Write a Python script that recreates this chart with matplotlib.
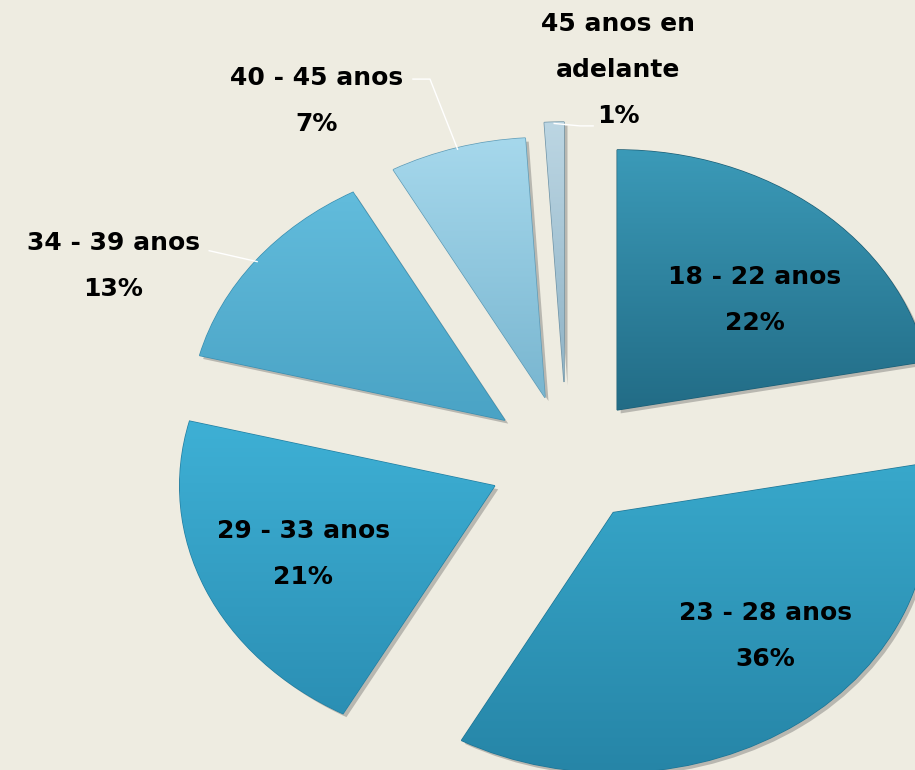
import numpy as np
import matplotlib.pyplot as plt
import matplotlib.patheffects as pe
from matplotlib.colors import LinearSegmentedColormap

plt.rcParams['font.family'] = ['DejaVu Sans']

# --- age groups and their share
groups = ["18 - 22 anos", "23 - 28 anos", "29 - 33 anos",
          "34 - 39 anos", "40 - 45 anos", "45 anos en\nadelante"]
shares = [22, 36, 21, 13, 7, 1]

# --- look of each slice (light top, darker bottom)
shade_top = ["#3b9ab8", "#38a8cb", "#3eb0d5", "#62bcdc", "#a6d8ec", "#bcd6e3"]
shade_bot = ["#226c86", "#2685a7", "#2b8fb4", "#4aa3c5", "#79b6d0", "#8fb3c6"]
edge_cols = ["#1d5f76", "#1f7595", "#237fa2", "#3b8fb0", "#5f9bb6", "#6f93a6"]
explode = [0.25, 0.25, 0.25, 0.25, 0.25, 0.3]

# label block centres and leader starts (None = label sits inside the slice)
label_xy = [(0.597, 0.615), (0.629, -0.677), (-0.838, -0.362),
            (-1.441, 0.746), (-0.794, 1.381), (0.162, 1.50)]
leaders = [None, None, None,
           [(-1.136, 0.805), (None, None)],
           [(-0.489, 1.465), (-0.435, 1.465)],
           [(0.083, 1.285), (0.041, 1.285)]]

bg = "#eeece1"
fig = plt.figure(figsize=(9.15, 7.7), dpi=100)
fig.patch.set_facecolor(bg)
ax = fig.add_axes([0, 0, 1, 1])
ax.set_facecolor(bg)

wedges, _ = ax.pie(shares, startangle=90, counterclock=False, explode=explode,
                   radius=1.0, normalize=True,
                   wedgeprops=dict(linewidth=1.0))

for i, w in enumerate(wedges):
    w.set_facecolor(shade_bot[i])
    w.set_edgecolor(edge_cols[i])
    w.set_path_effects([pe.SimplePatchShadow(offset=(2.5, -2.5), shadow_rgbFace="#555",
                                             alpha=0.35), pe.Normal()])
    # vertical gradient clipped to the wedge
    ext = w.get_path().get_extents()
    cmap = LinearSegmentedColormap.from_list("s%d" % i, [shade_bot[i], shade_top[i]])
    grad = np.linspace(0, 1, 256).reshape(-1, 1)
    im = ax.imshow(grad, cmap=cmap, origin="lower", aspect="auto",
                   extent=(ext.x0, ext.x1, ext.y0, ext.y1), zorder=w.get_zorder() + 0.1,
                   interpolation="bicubic")
    im.set_clip_path(w)

# labels
for i, w in enumerate(wedges):
    txt = "%s\n%d%%" % (groups[i], shares[i])
    ax.text(*label_xy[i], txt, ha="center", va="center", fontsize=18,
            fontweight="bold", color="black", linespacing=2.15, zorder=5)
    if leaders[i] is not None:
        mid = np.deg2rad((w.theta1 + w.theta2) / 2)
        cx, cy = w.center
        tip = (cx + np.cos(mid) * w.r * 0.995, cy + np.sin(mid) * w.r * 0.995)
        start, knee = leaders[i]
        pts = [start]
        if knee[0] is not None:
            pts.append(knee)
        pts.append(tip)
        xs, ys = zip(*pts)
        ax.plot(xs, ys, color="white", lw=1.0, zorder=4)

ax.set_xlim(-567 / 315, (915 - 567) / 315)
ax.set_ylim(-(770 - 460) / 260, 460 / 260)
ax.set_aspect("auto")
ax.axis("off")

fig.savefig("out.png", dpi=100, facecolor=bg)
